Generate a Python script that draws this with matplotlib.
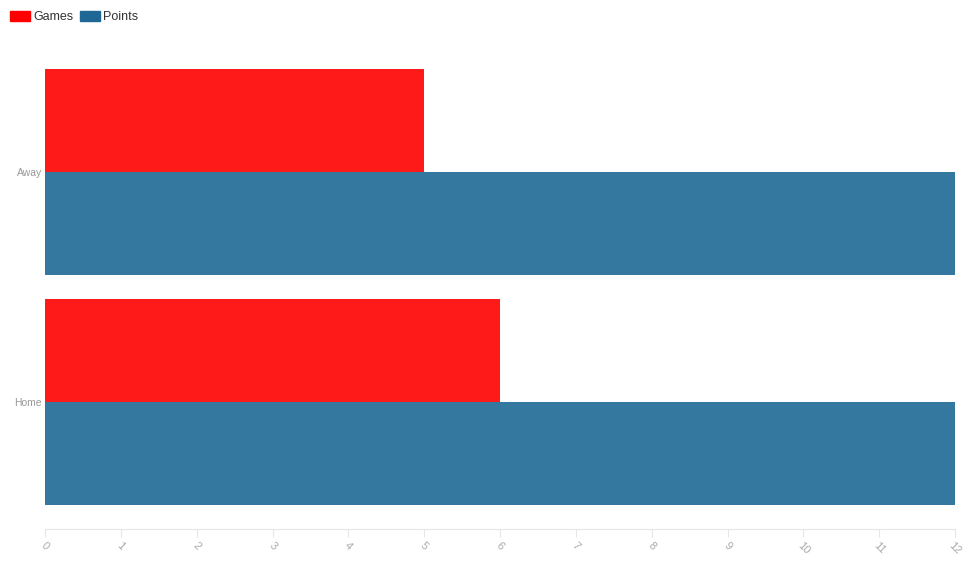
import numpy as np
import matplotlib.pyplot as plt
from matplotlib.patches import Patch

categories = ["Away", "Home"]
games = [5, 6]
points = [12, 12]
x_ticks = list(range(0, 13))

plt.rcParams["font.family"] = ["Liberation Sans", "DejaVu Sans"]

fig = plt.figure(figsize=(9.65, 5.75), dpi=100)
ax = fig.add_axes([45 / 965, (575 - 529) / 575, 910 / 965, (529 - 57) / 575])

y = np.arange(len(categories))
h = 0.448
ax.barh(y - h / 2, games, height=h, color="#ff1a1a", linewidth=0)
ax.barh(y + h / 2, points, height=h, color="#35789f", linewidth=0)

ax.set_xlim(0, 12)
ax.set_ylim(1.552, -0.5)
ax.set_xticks(x_ticks)
ax.set_xticklabels([str(t) for t in x_ticks], rotation=-45, ha="center",
                   fontsize=8, color="#aaaaaa")
ax.set_yticks(y)
ax.set_yticklabels(categories, fontsize=7.5, color="#999999")

for s in ["top", "right", "left"]:
    ax.spines[s].set_visible(False)
ax.spines["bottom"].set_color("#e6e6e6")
ax.tick_params(axis="x", length=6, color="#e6e6e6", pad=2)
ax.tick_params(axis="y", length=0, pad=2)

handles = [Patch(color="#ff0000", label="Games"), Patch(color="#1f6896", label="Points")]
fig.legend(handles=handles, loc="upper left", bbox_to_anchor=(10 / 965, 1 - 11 / 575), ncol=2,
           frameon=False, fontsize=9, handlelength=1.6, handleheight=0.8,
           handletextpad=0.25, columnspacing=0.55, borderpad=0, borderaxespad=0,
           labelcolor="#333333")

fig.savefig("out.png", dpi=100)
